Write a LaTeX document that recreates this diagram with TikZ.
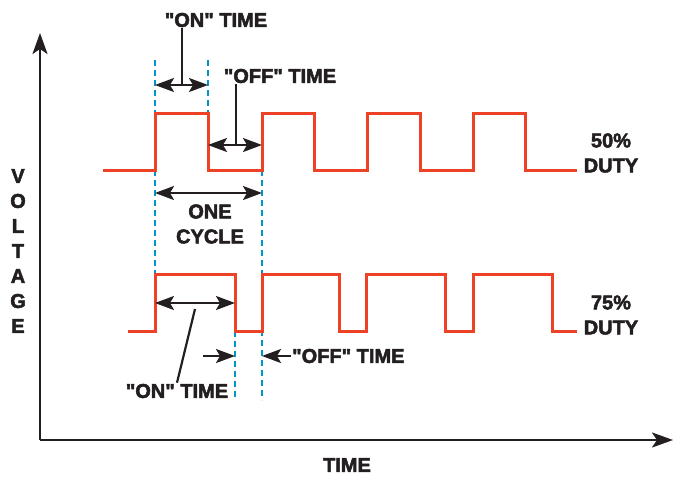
\documentclass[tikz,border=0pt]{standalone}
\usepackage{fontspec}
\setmainfont{Liberation Sans}[Ligatures=TeXOff,BoldFeatures={FakeBold=2.5}]
\usetikzlibrary{arrows.meta}
\definecolor{sigred}{RGB}{238,66,38}
\definecolor{guideblue}{RGB}{0,150,200}
\definecolor{ink}{RGB}{35,31,32}
\begin{document}
\begin{tikzpicture}[x=1pt,y=-1pt,
  every node/.style={font=\bfseries\fontsize{20}{25}\selectfont,text=ink,align=center,inner sep=1pt},
  wave/.style={sigred,line width=3pt},
  guide/.style={guideblue,line width=2.2pt,dash pattern=on 6pt off 4pt},
  axis/.style={ink,line width=2.4pt,-{Stealth[length=21pt,width=15pt,inset=5pt]}},
  dim/.style={ink,line width=2.2pt,{Stealth[length=19pt,width=14pt,inset=4pt]}-{Stealth[length=19pt,width=14pt,inset=4pt]}},
  tip/.style={ink,line width=2.2pt,-{Stealth[length=19pt,width=14pt,inset=4pt]}},
  lead/.style={ink,line width=2.2pt}]
\useasboundingbox (0,0) rectangle (678,477);
% axes
\coordinate (org) at (40,440);
\coordinate (ytop) at (40,33);
\coordinate (xend) at (673,440);
\draw[axis] (org) -- (ytop);
\draw[axis] (org) -- (xend);
\node (volt) at (18,251) {V\\O\\L\\T\\A\\G\\E};
\node (time) at (347,465) {TIME};
% guide lines
\draw[guide] (155,60) -- (155,275);
\draw[guide] (208,60) -- (208,113);
\draw[guide] (262,170) -- (262,400);
\draw[guide] (235,331) -- (235,400);
% 50% duty
\draw[wave] (103,170) -- (155,170) -- (155,113) -- (208,113) -- (208,170) -- (262,170) -- (262,113)
  -- (314,113) -- (314,170) -- (367,170) -- (367,113) -- (420,113) -- (420,170) -- (473,170)
  -- (473,113) -- (525,113) -- (525,170) -- (577,170);
\node (duty50) at (611,153) {50\%\\DUTY};
% 75% duty
\draw[wave] (128,331) -- (155,331) -- (155,274) -- (235,274) -- (235,331) -- (262,331) -- (262,274)
  -- (339,274) -- (339,331) -- (366,331) -- (366,274) -- (445,274) -- (445,331) -- (473,331)
  -- (473,274) -- (552,274) -- (552,331) -- (577,331);
\node (duty75) at (611,315) {75\%\\DUTY};
% top annotations
\node (ontop) at (216,20) {"ON" TIME};
\coordinate (on1) at (155,85);
\coordinate (on2) at (208,85);
\coordinate (onlead) at (182,85);
\draw[dim] (on1) -- (on2);
\draw[lead] (ontop.south -| onlead) -- (onlead);
\node (offtop) at (280,76) {"OFF" TIME};
\coordinate (off1) at (208,145);
\coordinate (off2) at (262,145);
\coordinate (offlead) at (236,145);
\draw[dim] (off1) -- (off2);
\draw[lead] (offtop.south -| offlead) -- (offlead);
\coordinate (cyc1) at (155,193);
\coordinate (cyc2) at (262,193);
\draw[dim] (cyc1) -- (cyc2);
\node (cycle) at (210,224) {ONE\\CYCLE};
% bottom annotations
\coordinate (on3) at (155,303);
\coordinate (on4) at (235,303);
\coordinate (onlead2) at (195,309);
\draw[dim] (on3) -- (on4);
\node (onbot) at (177,391) {"ON" TIME};
\draw[lead] (onbot.north) -- (onlead2);
\coordinate (offin1) at (203,356);
\coordinate (offin2) at (235,356);
\coordinate (offin3) at (262,356);
\draw[tip] (offin1) -- (offin2);
\node[anchor=west] (offbot) at (291,356) {"OFF" TIME};
\draw[tip] (offbot.west) -- (offin3);
\end{tikzpicture}
\end{document}
